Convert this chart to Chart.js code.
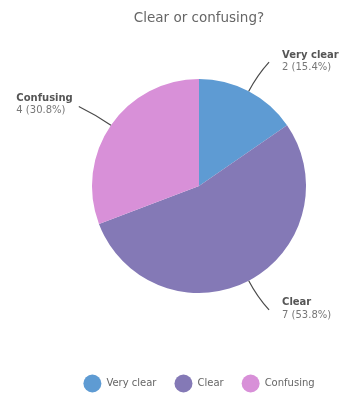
<!DOCTYPE html>
<html>
<head>
<meta charset="utf-8">
<script src="https://cdn.jsdelivr.net/npm/chart.js"></script>
<style>
  html, body { margin: 0; padding: 0; background: #fff; }
  #wrap { width: 341px; height: 394px; }
</style>
</head>
<body>
<div id="wrap"><canvas id="chart" width="341" height="394"></canvas></div>
<script>
const chartTitle = 'Clear or confusing?';
const answers = ['Very clear', 'Clear', 'Confusing'];
const counts = [2, 7, 4];
const sliceColors = ['#5e9bd3', '#8479b6', '#d890d8'];

Chart.defaults.font.family = '"DejaVu Sans", sans-serif';

const total = counts.reduce((a, b) => a + b, 0);

// answer name + "n (p%)" next to each slice, joined by a short curved leader
const sliceLabels = {
  id: 'sliceLabels',
  afterDatasetsDraw(chart) {
    const ctx = chart.ctx;
    const meta = chart.getDatasetMeta(0);
    ctx.save();
    meta.data.forEach((arc, i) => {
      const { x, y, startAngle, endAngle, outerRadius } =
        arc.getProps(['x', 'y', 'startAngle', 'endAngle', 'outerRadius'], true);
      const mid = (startAngle + endAngle) / 2;
      const cos = Math.cos(mid), sin = Math.sin(mid);
      const side = cos >= 0 ? 1 : -1;
      const sx = x + cos * outerRadius, sy = y + sin * outerRadius;
      const cx = x + cos * (outerRadius + 18), cy = y + sin * (outerRadius + 18);
      const ex = x + cos * (outerRadius + 33) + side * 5;
      const ey = y + sin * (outerRadius + 33);

      ctx.strokeStyle = '#4a4a4a';
      ctx.lineWidth = 1.2;
      ctx.beginPath();
      ctx.moveTo(sx, sy);
      ctx.quadraticCurveTo(cx, cy, ex, ey);
      ctx.stroke();

      const name = answers[i];
      const pct = (counts[i] / total * 100).toFixed(1);
      const value = counts[i] + ' (' + pct + '%)';

      ctx.textAlign = 'left';
      ctx.textBaseline = 'alphabetic';
      ctx.font = 'bold 10px "DejaVu Sans"';
      const w1 = ctx.measureText(name).width;
      ctx.font = '10px "DejaVu Sans"';
      const w2 = ctx.measureText(value).width;
      const tx = side > 0 ? ex + 13 : ex - 6 - Math.max(w1, w2);
      const ty = side > 0 ? ey - 4.5 : ey - 5.5;

      ctx.font = 'bold 10px "DejaVu Sans"';
      ctx.fillStyle = '#555';
      ctx.fillText(name, tx, ty);
      ctx.font = '10px "DejaVu Sans"';
      ctx.fillStyle = '#777';
      ctx.fillText(value, tx, ty + 12.5);
    });
    ctx.restore();
  }
};

new Chart(document.getElementById('chart'), {
  type: 'pie',
  data: {
    labels: answers,
    datasets: [{
      data: counts,
      backgroundColor: sliceColors,
      borderWidth: 0,
      radius: 107
    }]
  },
  options: {
    responsive: false,
    animation: false,
    layout: { padding: { left: 57, right: 0, top: 0, bottom: -8.5 } },
    plugins: {
      title: {
        display: true,
        text: chartTitle,
        color: '#666',
        font: { size: 13.5, weight: 'normal' },
        padding: { top: 10, bottom: 8 }
      },
      legend: {
        position: 'bottom',
        title: { display: true, text: ' ', font: { size: 10 }, padding: { top: 6.7, bottom: 0 } },
        labels: {
          boxWidth: 18,
          boxHeight: 18,
          padding: 18,
          color: '#666',
          font: { size: 10 },
          useBorderRadius: true,
          borderRadius: 9,
          generateLabels(chart) {
            const items = Chart.overrides.doughnut.plugins.legend.labels.generateLabels(chart);
            return items.map(it => Object.assign(it, { borderRadius: 9, lineWidth: 0 }));
          }
        }
      },
      tooltip: { enabled: false }
    }
  },
  plugins: [sliceLabels]
});
</script>
</body>
</html>
